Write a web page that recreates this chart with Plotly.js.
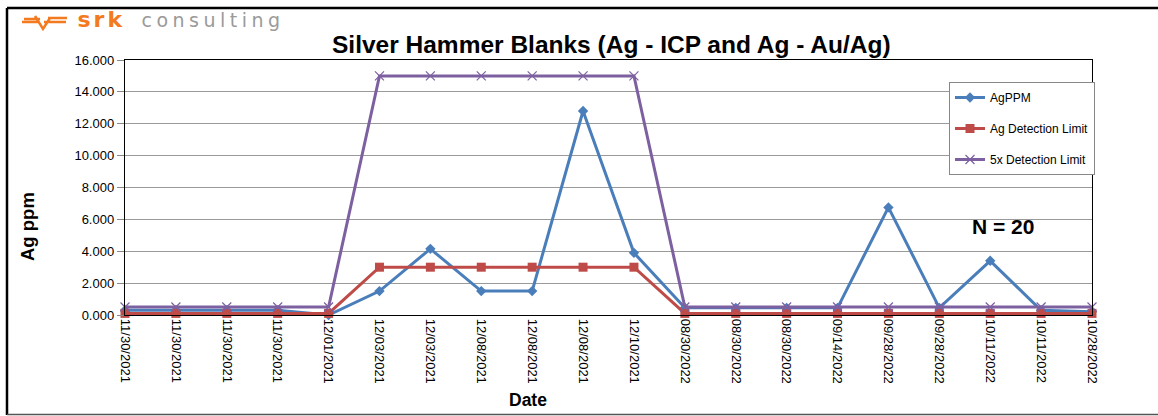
<!DOCTYPE html>
<html>
<head>
<meta charset="utf-8">
<script src="https://cdn.plot.ly/plotly-3.0.1.min.js"></script>
<style>
html,body{margin:0;padding:0;background:#fff;}
#chart{width:1158px;height:416px;}
g.annotation[data-index="1"] text{letter-spacing:3px;}
g.annotation[data-index="2"] text{letter-spacing:4.5px;}
</style>
</head>
<body>
<div id="chart"></div>
<script>
// ---- data ----
const dates = ['11/30/2021','11/30/2021','11/30/2021','11/30/2021','12/01/2021','12/03/2021','12/03/2021','12/08/2021','12/08/2021','12/08/2021','12/10/2021','08/30/2022','08/30/2022','08/30/2022','09/14/2022','09/28/2022','09/28/2022','10/11/2022','10/11/2022','10/28/2022'];
const agPPM = [0.3,0.3,0.3,0.3,0.0,1.5,4.15,1.5,1.5,12.8,3.9,0.45,0.45,0.45,0.45,6.75,0.45,3.4,0.3,0.2];
const agDetLimit = [0.1,0.1,0.1,0.1,0.1,3,3,3,3,3,3,0.1,0.1,0.1,0.1,0.1,0.1,0.1,0.1,0.1];
const fiveXDetLimit = [0.5,0.5,0.5,0.5,0.5,15,15,15,15,15,15,0.5,0.5,0.5,0.5,0.5,0.5,0.5,0.5,0.5];
const seriesNames = ['AgPPM','Ag Detection Limit','5x Detection Limit'];
const yTicks = [0,2,4,6,8,10,12,14,16];

const idx = dates.map((d,i)=>i);
const FONT = 'Liberation Sans, Arial, sans-serif';

// pixel -> paper helpers (plot area 125..1092 x, 60..315 y)
const L=125, R=1092, T=60, B=315;
const px = x => (x-L)/(R-L);
const py = y => (B-y)/(B-T);

const traces = [
  {x: idx, y: agPPM, name: seriesNames[0], type:'scatter', mode:'lines+markers',
   line:{color:'#4A7EBB', width:3}, marker:{symbol:'diamond', size:8, color:'#4A7EBB'},
   cliponaxis:false, legendgroup:'a'},
  {x: idx, y: agDetLimit, name: seriesNames[1], type:'scatter', mode:'lines+markers',
   line:{color:'#BE4B48', width:3}, marker:{symbol:'square', size:9, color:'#BE4B48'},
   cliponaxis:false, legendgroup:'b'},
  {x: idx, y: fiveXDetLimit, name: seriesNames[2], type:'scatter', mode:'lines+markers',
   line:{color:'#7D60A0', width:3}, marker:{symbol:'x-thin', size:9, line:{color:'#7D60A0', width:1.2}},
   cliponaxis:false, legendgroup:'c'}
];

const logoColor = '#F47A20';
const shapes = [
  // outer frame
  {type:'line', xref:'paper', yref:'paper', x0:px(7), x1:px(1160), y0:py(8), y1:py(8), line:{color:'#000', width:2.5}},
  {type:'line', xref:'paper', yref:'paper', x0:px(7), x1:px(7), y0:py(8), y1:py(415), line:{color:'#000', width:2.5}},
  {type:'line', xref:'paper', yref:'paper', x0:px(7), x1:px(1160), y0:py(414.5), y1:py(414.5), line:{color:'#555', width:1.5}},
  // logo glyph
  {type:'path', xref:'paper', yref:'paper',
   path:`M ${px(22)} ${py(22)} L ${px(39)} ${py(22)} M ${px(24)} ${py(19)} L ${px(40)} ${py(19)} M ${px(35)} ${py(16)} L ${px(43)} ${py(29)} L ${px(50)} ${py(18)} M ${px(44)} ${py(22)} L ${px(66)} ${py(22)} M ${px(48)} ${py(18)} L ${px(67)} ${py(18)}`,
   line:{color:logoColor, width:2.5}}
];

const annotations = [
  {text:'<b>Silver Hammer Blanks (Ag - ICP and Ag - Au/Ag)</b>', xref:'paper', yref:'paper', x:px(611), y:py(44),
   xanchor:'center', yanchor:'middle', showarrow:false, font:{family:FONT, size:24.5, color:'#000'}},
  {text:'<b>srk</b>', xref:'paper', yref:'paper', x:px(80), y:py(20), xanchor:'left', yanchor:'middle', showarrow:false,
   font:{family:'DejaVu Sans, sans-serif', size:22, weight:800, color:logoColor}},
  {text:'consulting', xref:'paper', yref:'paper', x:px(162), y:py(20), xanchor:'left', yanchor:'middle', showarrow:false,
   font:{family:'DejaVu Sans, sans-serif', size:19, color:'#9A9A9A'}},
  {text:'<b>Ag ppm</b>', xref:'paper', yref:'paper', x:px(27), y:py(227), xanchor:'center', yanchor:'middle', textangle:-90,
   showarrow:false, font:{family:FONT, size:18.5, color:'#000'}},
  {text:'<b>Date</b>', xref:'paper', yref:'paper', x:px(528), y:py(400), xanchor:'center', yanchor:'middle',
   showarrow:false, font:{family:FONT, size:17.5, color:'#000'}},
  {text:'<b>N = 20</b>', xref:'paper', yref:'paper', x:px(1003), y:py(226), xanchor:'center', yanchor:'middle',
   showarrow:false, font:{family:FONT, size:21, color:'#000'}}
];

const layout = {
  width:1158, height:416,
  margin:{l:L, r:1158-R, t:T, b:416-B, pad:0},
  paper_bgcolor:'#fff', plot_bgcolor:'#fff',
  showlegend:true,
  font:{family:FONT, color:'#000'},
  xaxis:{type:'linear', range:[0, dates.length-1], tickmode:'array', tickvals:idx, ticktext:dates,
    tickangle:90, tickfont:{family:FONT, size:13, color:'#000'}, showgrid:false, zeroline:false,
    showline:true, linecolor:'#000', linewidth:1.2, mirror:true, ticks:'', fixedrange:true},
  yaxis:{range:[0,16], tickmode:'array', tickvals:yTicks, ticktext:yTicks.map(v=>v.toFixed(3)),
    tickfont:{family:FONT, size:13, color:'#000'}, showgrid:true, gridcolor:'#9A9A9A', gridwidth:1.2,
    zeroline:false, showline:true, linecolor:'#000', linewidth:1.2, mirror:true,
    ticks:'outside', ticklen:7, tickcolor:'#888', tickwidth:1, fixedrange:true},
  legend:{x:px(949), y:py(82), xanchor:'left', yanchor:'top', bgcolor:'#fff', bordercolor:'#888', borderwidth:1,
    font:{family:FONT, size:12, color:'#000'}, traceorder:'grouped', tracegroupgap:12, itemwidth:30},
  shapes:shapes,
  annotations:annotations
};

Plotly.newPlot('chart', traces, layout, {staticPlot:true, displayModeBar:false});
</script>
</body>
</html>
